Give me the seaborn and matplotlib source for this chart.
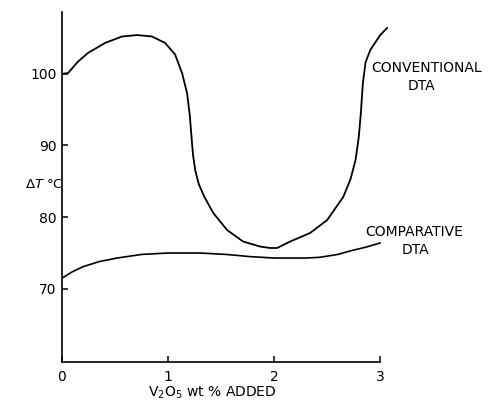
import pandas as pd
import matplotlib
matplotlib.use('Agg')
import matplotlib.pyplot as plt
import seaborn as sns

# values
conv_x = [0, 0.057, 0.151, 0.245, 0.406, 0.566, 0.708, 0.849, 0.972, 1.066, 1.132,
          1.179, 1.205, 1.222, 1.236, 1.258, 1.290, 1.340, 1.425, 1.557, 1.708,
          1.868, 1.962, 2.028, 2.151, 2.340, 2.500, 2.651, 2.720, 2.768, 2.798,
          2.818, 2.836, 2.862, 2.906, 3.000, 3.066]
conv_y = [100, 100.1, 101.7, 102.9, 104.3, 105.2, 105.4, 105.2, 104.3, 102.7, 100.1,
          97.3, 94.2, 91.0, 88.6, 86.4, 84.6, 82.9, 80.6, 78.2, 76.6,
          75.9, 75.7, 75.7, 76.6, 77.8, 79.6, 82.8, 85.3, 88.0, 91.2,
          94.6, 98.6, 101.6, 103.3, 105.4, 106.4]
comp_x = [0, 0.1, 0.2, 0.35, 0.52, 0.75, 1.0, 1.3, 1.55, 1.77, 2.0, 2.15, 2.3,
          2.43, 2.6, 2.72, 2.86, 3.0]
comp_y = [71.5, 72.4, 73.1, 73.8, 74.3, 74.8, 75.0, 75.0, 74.8, 74.5, 74.3, 74.3,
          74.3, 74.4, 74.8, 75.3, 75.8, 76.4]

x_ticks = [0, 1, 2, 3]
x_ticklabels = ['0', '1', '2', '3']
y_ticks = [70, 80, 90, 100]
y_ticklabels = ['70', '80', '90', '100']

conv = pd.DataFrame({'x': conv_x, 'y': conv_y})
comp = pd.DataFrame({'x': comp_x, 'y': comp_y})

sns.set_style('white')
plt.rcParams['font.family'] = ['DejaVu Sans']
plt.rcParams['text.color'] = 'black'

fig = plt.figure(figsize=(5.02, 4.04), dpi=100)
ax = fig.add_axes([0.1235, 0.104, 0.655, 0.866])

sns.lineplot(data=conv, x='x', y='y', sort=False, color='black', lw=1.3, ax=ax)
sns.lineplot(data=comp, x='x', y='y', sort=False, color='black', lw=1.2, ax=ax)

ax.set_xlim(0, 3.1)
ax.set_ylim(59.8, 108.6)
ax.spines['top'].set_visible(False)
ax.spines['right'].set_visible(False)
ax.spines['bottom'].set_bounds(0, 3)
for s in ['left', 'bottom']:
    ax.spines[s].set_linewidth(1.2)
    ax.spines[s].set_color('black')

ax.set_xticks(x_ticks)
ax.set_xticklabels(x_ticklabels)
ax.set_yticks(y_ticks)
ax.set_yticklabels(y_ticklabels)
ax.tick_params(bottom=True, left=True, direction='in', length=4, width=1.1,
               labelsize=10, colors='black')
ax.tick_params(axis='x', pad=6)
ax.tick_params(axis='y', pad=4)
ax.set_xlabel('')
ax.set_ylabel('')

ax.text(-0.17, 84.5, r'$\Delta T$ °C', ha='center', va='center', fontsize=9.5)
ax.text(1.415, 55.5, 'V$_2$O$_5$ wt % ADDED', ha='center', va='center', fontsize=10)

ax.text(2.92, 100.8, 'CONVENTIONAL', ha='left', va='center', fontsize=10)
ax.text(3.39, 98.3, 'DTA', ha='center', va='center', fontsize=10)
ax.text(2.86, 78.0, 'COMPARATIVE', ha='left', va='center', fontsize=10)
ax.text(3.33, 75.4, 'DTA', ha='center', va='center', fontsize=10)

fig.savefig('out.png', dpi=100)
